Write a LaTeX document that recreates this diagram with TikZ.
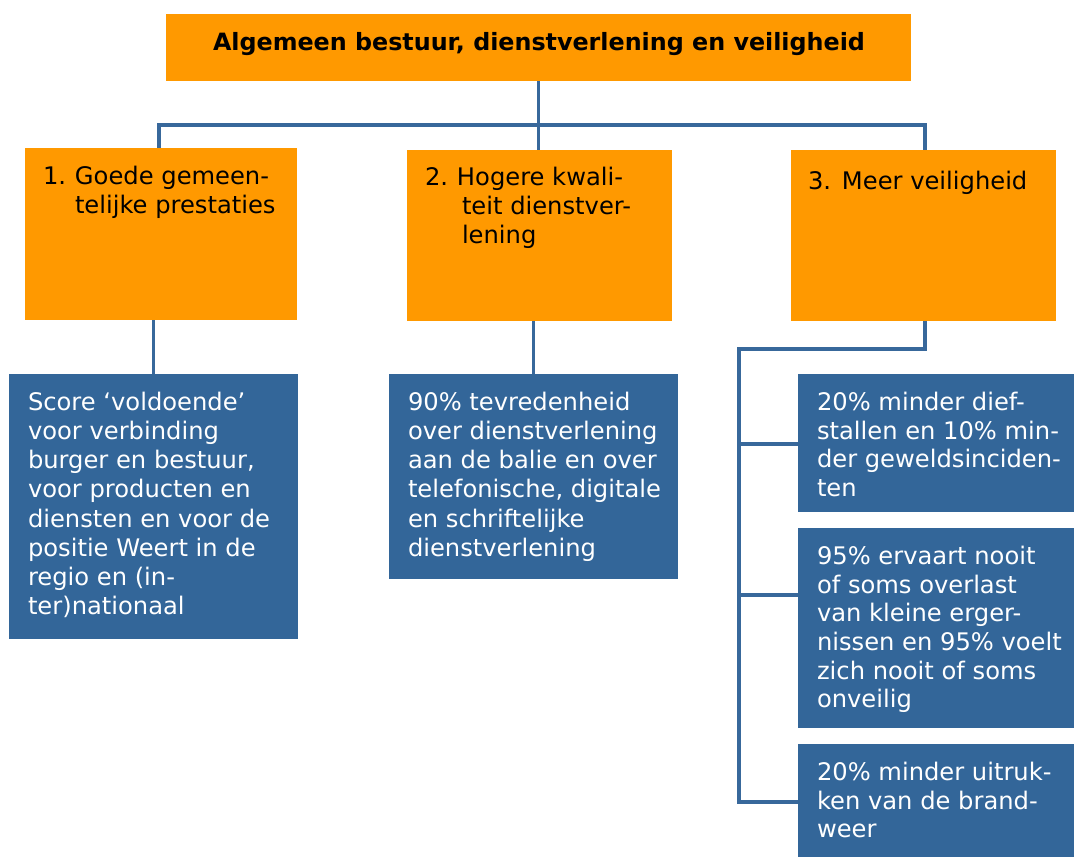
\documentclass[tikz,border=0pt]{standalone}
\usepackage{fontspec}
\setmainfont{DejaVu Sans}
\definecolor{orng}{RGB}{255,153,0}
\definecolor{steel}{RGB}{51,102,153}
\definecolor{wire}{RGB}{56,104,155}
\begin{document}
\begin{tikzpicture}[x=1pt,y=-1pt,
  box/.style={anchor=north west, inner sep=0pt, outer sep=0pt, draw=none},
  goal/.style={box, fill=orng},
  target/.style={box, fill=steel},
  txt/.style={anchor=north west, inner sep=0pt, outer sep=0pt, align=left,
    font=\fontsize{24.2}{29.2}\selectfont,
    execute at begin node={\rule{0pt}{22pt}}},
  goaltxt/.style={txt, text=black},
  targettxt/.style={txt, text=white},
  wire/.style={draw=wire, line width=3.5pt},
]
\useasboundingbox (0,0) rectangle (1074,857);

% headline
\node[goal, minimum width=745pt, minimum height=67pt] (top) at (166,14) {};
\node[anchor=base, inner sep=0pt, font=\fontsize{23.8}{28}\selectfont\bfseries] (toptxt) at (539,50)
  {Algemeen bestuur, dienstverlening en veiligheid};

% three goals
\node[goal, minimum width=272pt, minimum height=172pt] (o1) at (25,148) {};
\node[goal, minimum width=265pt, minimum height=171pt] (o2) at (407,150) {};
\node[goal, minimum width=265pt, minimum height=171pt] (o3) at (791,150) {};

\node[goaltxt] (o1txt) at (43,166)
  {\makebox[32pt][l]{1.}Goede gemeen-\\\hspace*{32pt}telijke prestaties};
\node[goaltxt] (o2txt) at (425,167)
  {\makebox[32pt][l]{2.}Hogere kwali-\\\hspace*{37pt}teit dienstver-\\\hspace*{37pt}lening};
\node[goaltxt] (o3txt) at (808,167)
  {\makebox[34pt][l]{3.}Meer veiligheid};

% targets
\node[target, minimum width=289pt, minimum height=265pt] (b1) at (9,374) {};
\node[target, minimum width=289pt, minimum height=205pt] (b2) at (389,374) {};
\node[target, minimum width=276pt, minimum height=138pt] (b3a) at (798,374) {};
\node[target, minimum width=276pt, minimum height=200pt] (b3b) at (798,528) {};
\node[target, minimum width=276pt, minimum height=113pt] (b3c) at (798,744) {};

\node[targettxt] (b1txt) at (28,392)
  {Score ‘voldoende’\\voor verbinding\\burger en bestuur,\\voor producten en\\diensten en voor de\\positie Weert in de\\regio en (in-\\ter)nationaal};
\node[targettxt] (b2txt) at (408,392)
  {90\% tevredenheid\\over dienstverlening\\aan de balie en over\\telefonische, digitale\\en schriftelijke\\dienstverlening};
\node[targettxt, font=\fontsize{24.2}{28.7}\selectfont] (b3atxt) at (817,392)
  {20\% minder dief-\\stallen en 10\% min-\\der geweldsinciden-\\ten};
\node[targettxt, font=\fontsize{24.2}{28.7}\selectfont] (b3btxt) at (817,546)
  {95\% ervaart nooit\\of soms overlast\\van kleine erger-\\nissen en 95\% voelt\\zich nooit of soms\\onveilig};
\node[targettxt, font=\fontsize{24.2}{28.7}\selectfont] (b3ctxt) at (817,762)
  {20\% minder uitruk-\\ken van de brand-\\weer};

% connectors
\coordinate (jl) at (159,125);
\coordinate (jr) at (925,125);
\draw[wire] (top.south) -- (top.south |- o2.north);
\draw[wire] (o1.north -| jl) -- (jl) -- (jr) -- (o3.north -| jr);
\draw[wire] (o1.south -| b1.north) -- (b1.north);
\draw[wire] (o2.south -| b2.north) -- (b2.north);

\coordinate (ka) at (925,349);
\coordinate (kb) at (739,349);
\coordinate (ta) at (739,444);
\coordinate (tb) at (739,595);
\coordinate (kc) at (739,802);
\draw[wire] (o3.south -| ka) -- (ka) -- (kb) -- (kc) -- (kc -| b3c.west);
\draw[wire] (ta) -- (ta -| b3a.west);
\draw[wire] (tb) -- (tb -| b3b.west);
\end{tikzpicture}
\end{document}
